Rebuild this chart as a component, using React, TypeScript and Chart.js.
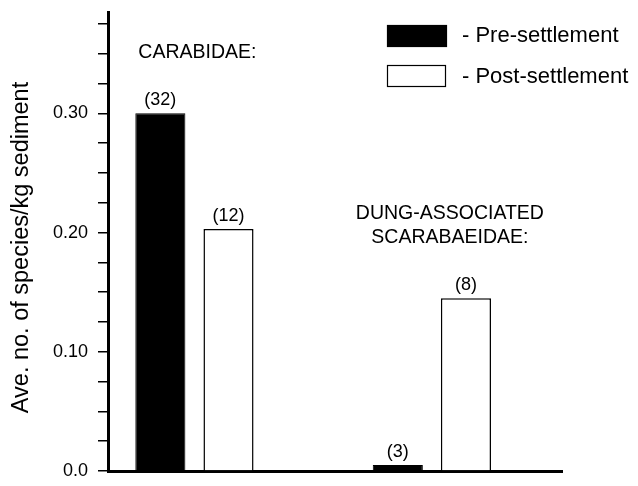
import React, { useEffect, useRef } from "react";
import { Chart, registerables } from "chart.js";

Chart.register(...registerables);

// ---- data ----
const categories: string[][] = [["CARABIDAE:"], ["DUNG-ASSOCIATED", "SCARABAEIDAE:"]];
const seriesNames = ["Pre-settlement", "Post-settlement"];
const preValues = [0.3, 0.005];
const postValues = [0.203, 0.145];
const preCounts = [32, 3];
const postCounts = [12, 8];
const yTickLabels = ["0.0", "0.10", "0.20", "0.30"];
const yTitle = "Ave. no. of species/kg sediment";

const FONT = '"Liberation Sans", Arial, Helvetica, sans-serif';

const annotationPlugin = {
  id: "annotations",
  afterDatasetsDraw(chart: any) {
    const ctx = chart.ctx as CanvasRenderingContext2D;
    const xs = chart.scales.x;
    const area = chart.chartArea;
    ctx.save();
    ctx.fillStyle = "#000";

    // y axis title (rotated)
    ctx.save();
    ctx.font = `23.5px ${FONT}`;
    ctx.textAlign = "center";
    ctx.textBaseline = "middle";
    ctx.translate(22, (area.top + area.bottom) / 2 + 6);
    ctx.rotate(-Math.PI / 2);
    ctx.fillText(yTitle, 0, 0);
    ctx.restore();

    // counts above bars
    ctx.font = `18px ${FONT}`;
    ctx.textAlign = "center";
    ctx.textBaseline = "bottom";
    [preCounts, postCounts].forEach((counts, di) => {
      const meta = chart.getDatasetMeta(di);
      meta.data.forEach((el: any, i: number) => {
        ctx.fillText(`(${counts[i]})`, el.x, el.y - 4);
      });
    });

    // group labels
    ctx.font = `19.5px ${FONT}`;
    ctx.textBaseline = "middle";
    const groupPos = [
      { dx: 3, y: 53 },
      { dx: 18, y: 214 },
    ];
    categories.forEach((lines, i) => {
      const cx = xs.getPixelForValue(i) + groupPos[i].dx;
      lines.forEach((line, li) => {
        ctx.fillText(line, cx, groupPos[i].y + li * 24);
      });
    });

    // legend
    const legendBoxes = [
      { x: 387, y: 25, w: 60, h: 22, ty: 36 },
      { x: 387, y: 65, w: 59, h: 22, ty: 77 },
    ];
    ctx.font = `22px ${FONT}`;
    ctx.textAlign = "left";
    chart.data.datasets.forEach((ds: any, i: number) => {
      const b = legendBoxes[i];
      ctx.fillStyle = ds.backgroundColor;
      ctx.fillRect(b.x, b.y, b.w, b.h);
      ctx.strokeStyle = "#000";
      ctx.lineWidth = 1.2;
      ctx.strokeRect(b.x + 0.5, b.y + 0.5, b.w - 1, b.h - 1);
      ctx.fillStyle = "#000";
      ctx.fillText(`- ${seriesNames[i]}`, 462, b.ty);
    });
    ctx.restore();
  },
};

export default function App() {
  const ref = useRef<HTMLCanvasElement | null>(null);

  useEffect(() => {
    if (!ref.current) return;
    const chart = new Chart(ref.current, {
      type: "bar",
      data: {
        datasets: [
          {
            label: seriesNames[0],
            data: preValues.map((v, i) => ({ x: i, y: v })),
            backgroundColor: "#000",
            borderColor: "#000",
            borderWidth: 1,
          },
          {
            label: seriesNames[1],
            data: postValues.map((v, i) => ({ x: i, y: v })),
            backgroundColor: "#fff",
            borderColor: "#000",
            borderWidth: 1.5,
          },
        ],
      },
      plugins: [annotationPlugin],
      options: {
        animation: false,
        responsive: true,
        maintainAspectRatio: false,
        categoryPercentage: 0.574,
        barPercentage: 0.735,
        layout: { padding: { top: 12, right: 76, bottom: 15, left: 8 } },
        plugins: {
          legend: { display: false },
          tooltip: { enabled: false },
        },
        scales: {
          x: {
            type: "linear",
            min: -0.364,
            max: 1.548,
            offset: false,
            ticks: { display: false, stepSize: 1, includeBounds: false },
            grid: { display: false },
            border: { display: true, color: "#000", width: 3 },
            afterFit: (s: any) => {
              s.height = 0;
              s.paddingLeft = 0;
              s.paddingRight = 0;
            },
          },
          y: {
            type: "linear",
            min: 0,
            max: 0.385,
            ticks: {
              stepSize: 0.025,
              includeBounds: false,
              autoSkip: false,
              padding: 10,
              color: "#000",
              font: { family: FONT, size: 18 },
              callback: (v: any) => {
                const t = Number(v) * 10;
                if (Math.abs(t - Math.round(t)) < 1e-6) {
                  return yTickLabels[Math.round(t)] ?? "";
                }
                return "";
              },
            },
            grid: {
              drawOnChartArea: false,
              drawTicks: true,
              tickLength: 10,
              color: "#000",
              lineWidth: 1.5,
            },
            border: { display: true, color: "#000", width: 3 },
            title: { display: false },
            afterFit: (s: any) => {
              s.width = 100;
              s.paddingTop = 0;
              s.paddingBottom = 0;
            },
          },
        },
      },
    });
    return () => chart.destroy();
  }, []);

  return (
    <div style={{ position: "fixed", left: 0, top: 0, width: 638, height: 486, background: "#fff" }}>
      <canvas ref={ref} />
    </div>
  );
}
